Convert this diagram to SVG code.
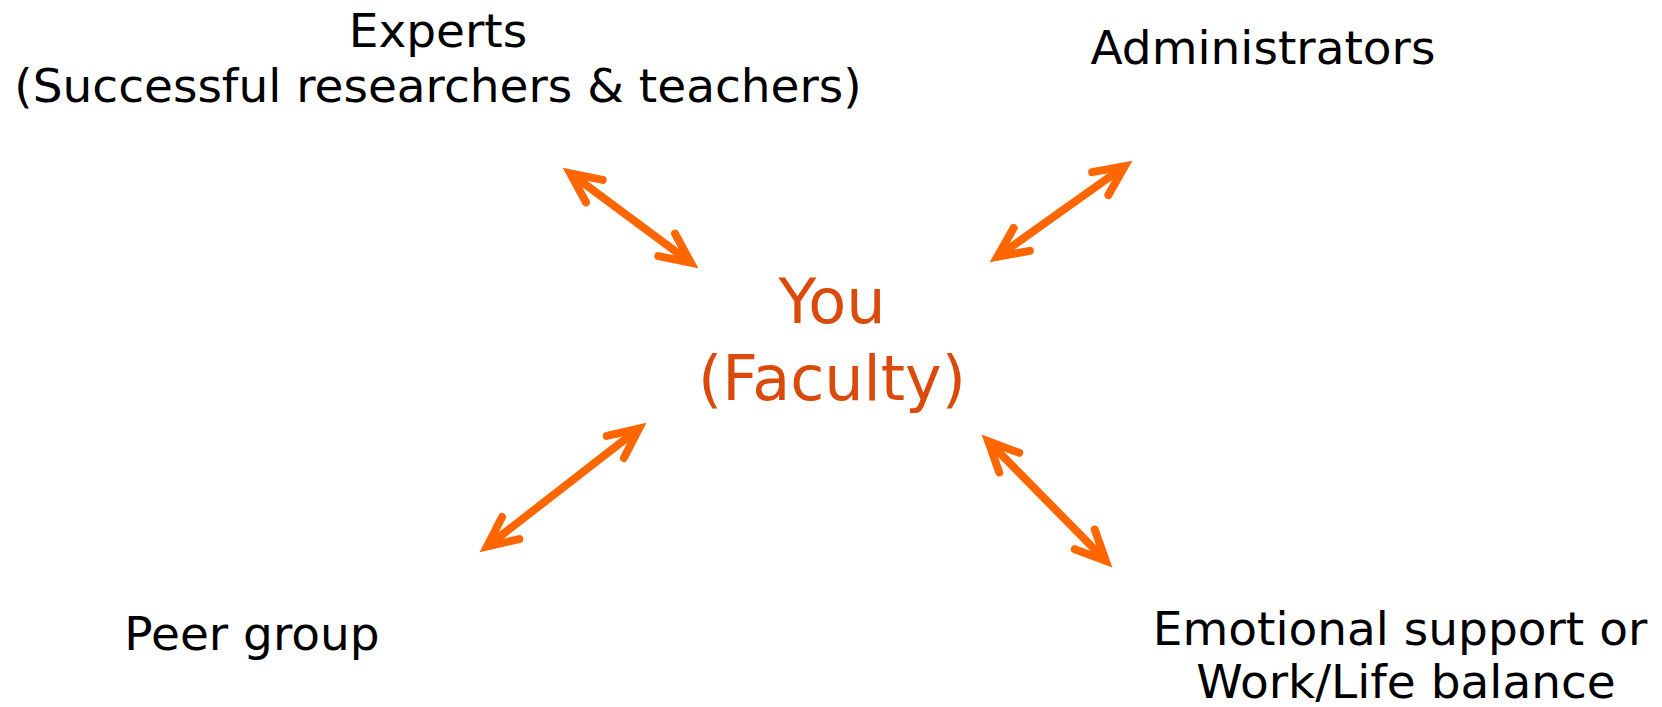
<svg xmlns="http://www.w3.org/2000/svg" width="1662" height="707" viewBox="0 0 1662 707">
<style>
.lbl{font-family:"DejaVu Sans","Verdana",sans-serif;font-size:47px;fill:#000;text-anchor:middle}
.ctr{font-family:"DejaVu Sans","Verdana",sans-serif;font-size:62px;fill:#DA4A0B;text-anchor:middle}
.conn{stroke:#FF6600;stroke-width:8;fill:none;stroke-linecap:butt}
.head{stroke:#FF6600;stroke-width:8;fill:none;stroke-linecap:round;stroke-linejoin:miter;stroke-miterlimit:10}
</style>
<defs>
<marker id="ah" markerUnits="userSpaceOnUse" orient="auto" refX="0" refY="0" markerWidth="80" markerHeight="80" viewBox="-40 -40 80 80" overflow="visible">
<path class="head" d="M -30,-14 L 0,0 L -30,14"/>
</marker>
<marker id="at" markerUnits="userSpaceOnUse" orient="auto" refX="0" refY="0" markerWidth="80" markerHeight="80" viewBox="-40 -40 80 80" overflow="visible">
<path class="head" d="M 30,-14 L 0,0 L 30,14"/>
</marker>
</defs>
<rect width="1662" height="707" fill="#fff"/>
<g id="connectors">
<line class="conn" x1="570.2" y1="173.3" x2="690.8" y2="262.7" marker-start="url(#at)" marker-end="url(#ah)"/>
<line class="conn" x1="997.3" y1="256.8" x2="1124.7" y2="166.2" marker-start="url(#at)" marker-end="url(#ah)"/>
<line class="conn" x1="487.0" y1="546.5" x2="639.0" y2="428.5" marker-start="url(#at)" marker-end="url(#ah)"/>
<line class="conn" x1="988.2" y1="441.3" x2="1105.8" y2="560.7" marker-start="url(#at)" marker-end="url(#ah)"/>
</g>
<g id="experts">
<text class="lbl" x="438" y="47">Experts</text>
<text class="lbl" x="438" y="102">(Successful researchers &amp; teachers)</text>
</g>
<g id="administrators">
<text class="lbl" x="1263" y="64">Administrators</text>
</g>
<g id="you">
<text class="ctr" x="832" y="323">You</text>
<text class="ctr" x="832" y="400">(Faculty)</text>
</g>
<g id="peer-group">
<text class="lbl" x="252" y="650">Peer group</text>
</g>
<g id="emotional-support">
<text class="lbl" x="1400" y="645">Emotional support or</text>
<text class="lbl" x="1406" y="698">Work/Life balance</text>
</g>
</svg>
